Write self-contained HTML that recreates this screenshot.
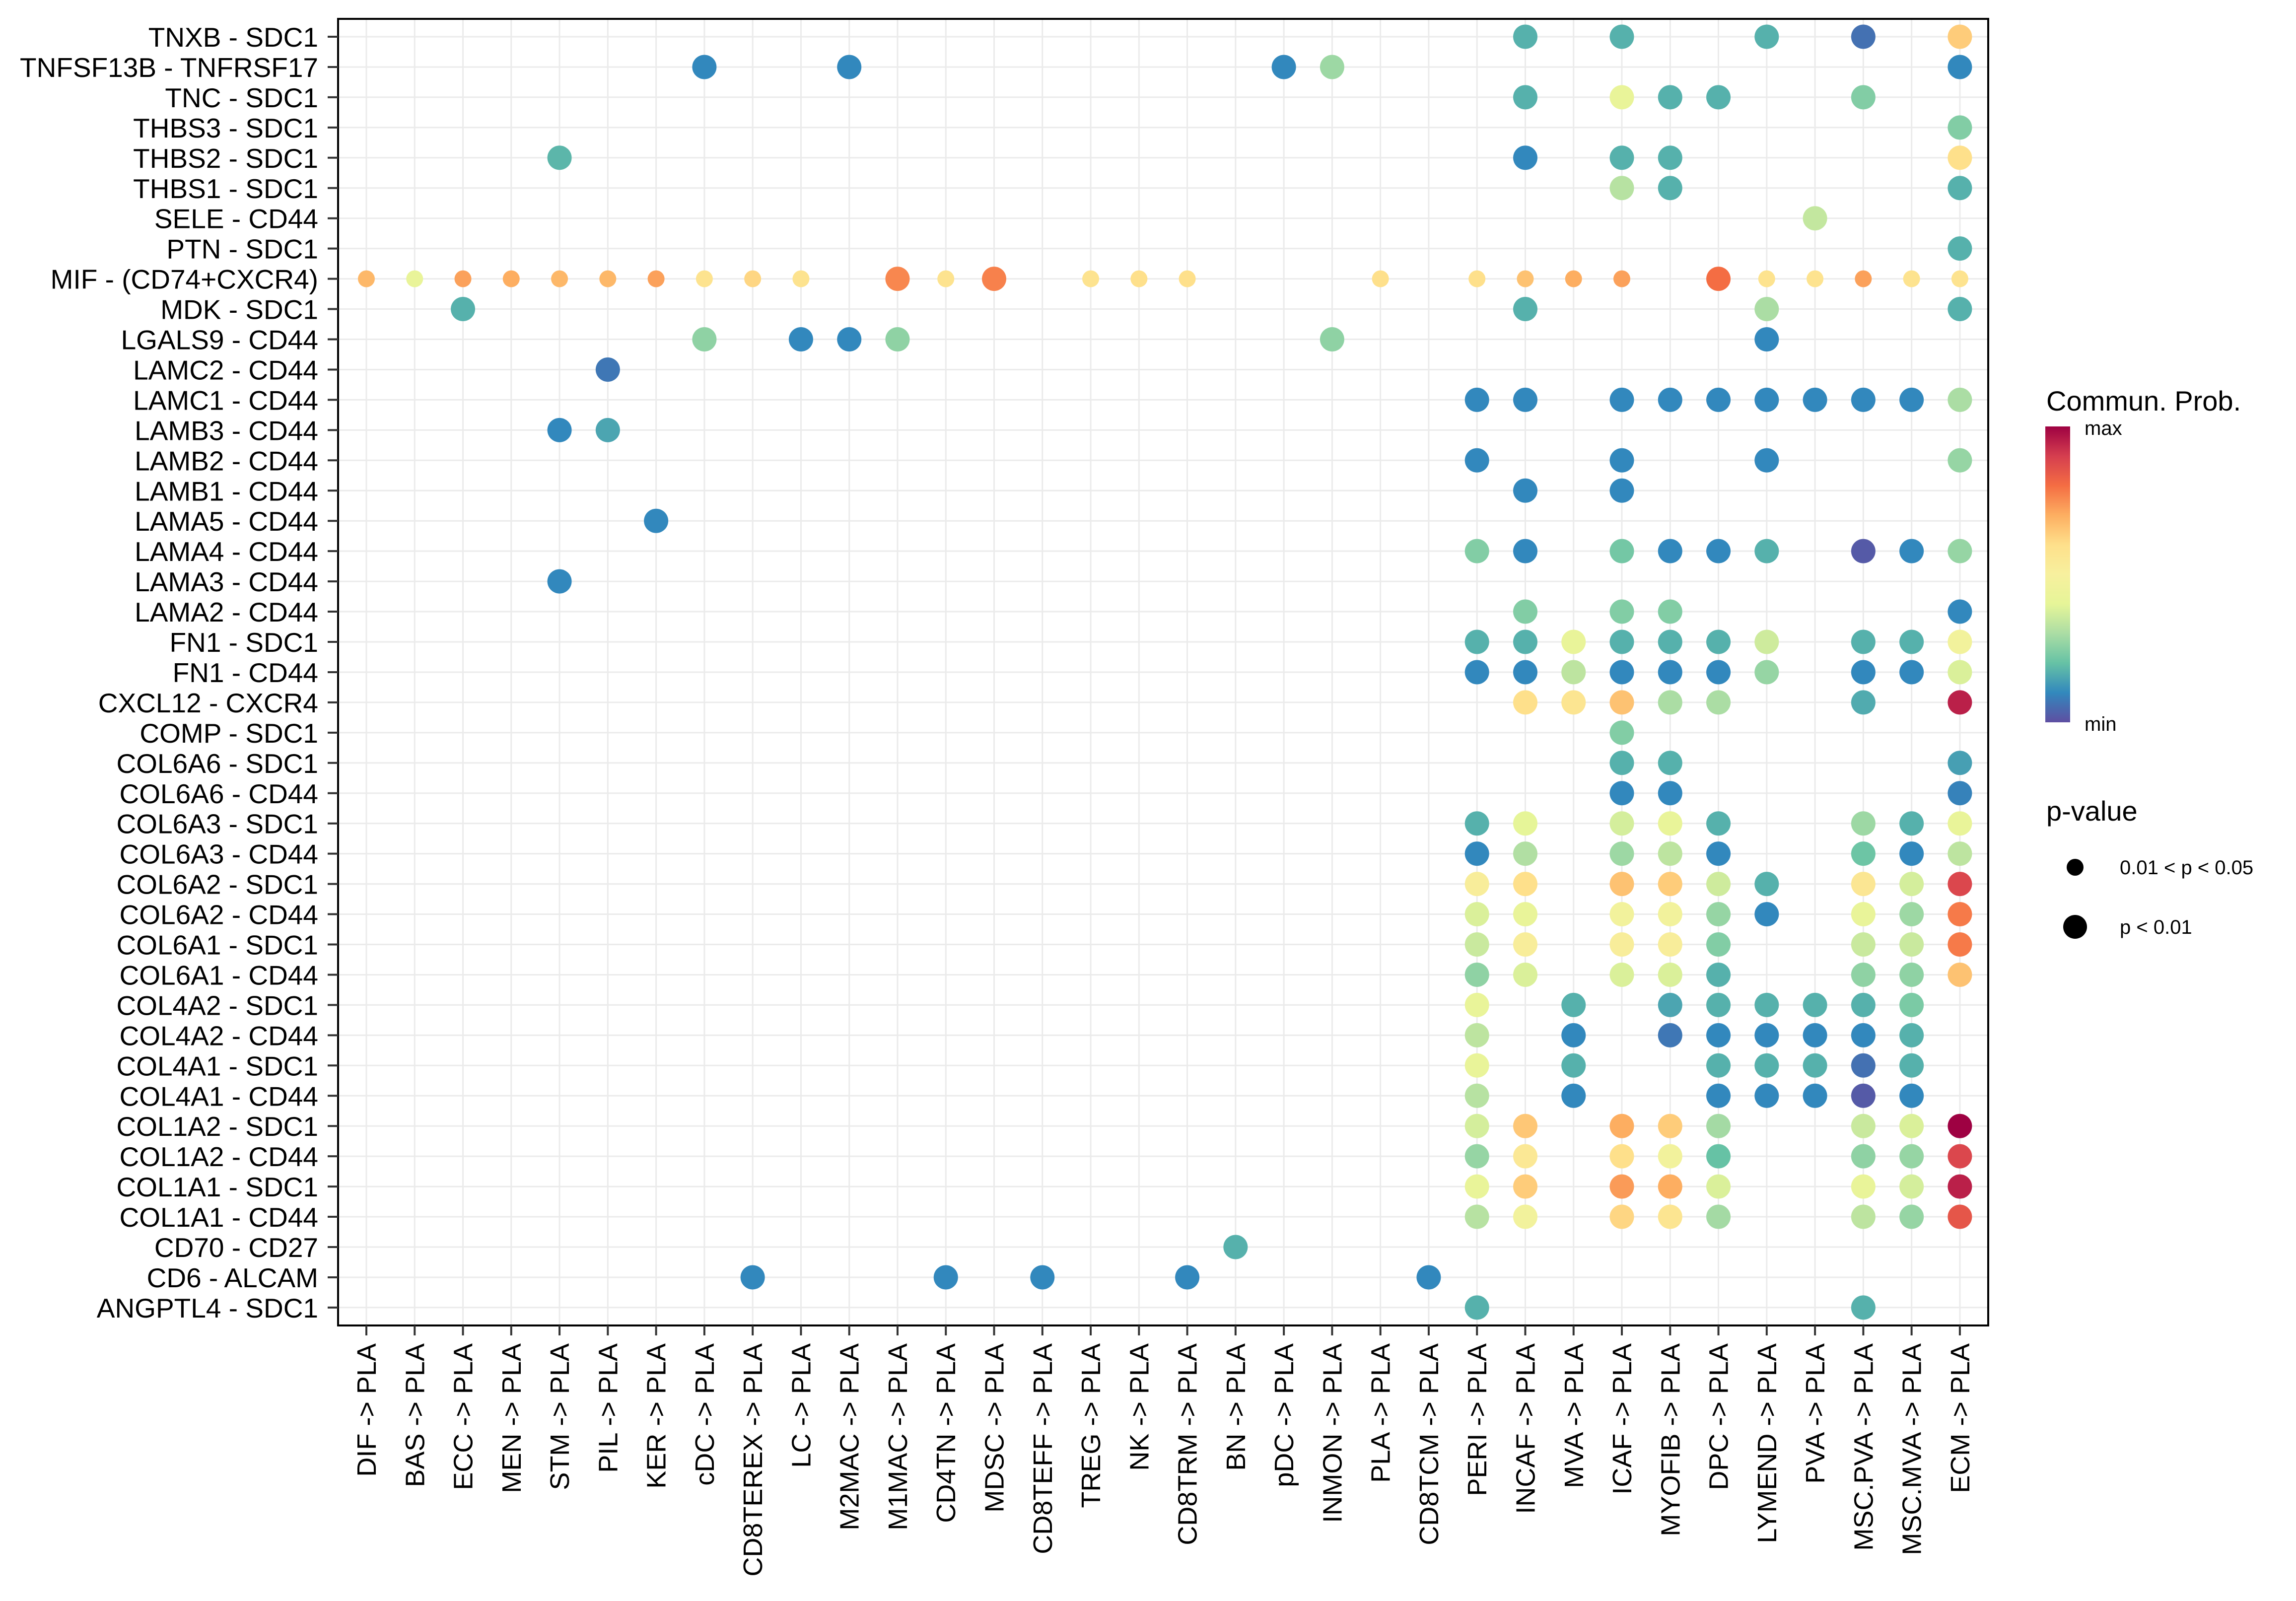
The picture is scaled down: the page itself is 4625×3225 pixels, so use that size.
<!DOCTYPE html>
<html><head><meta charset="utf-8">
<style>
html,body{margin:0;padding:0;background:#fff;}
svg{display:block;font-family:"Liberation Sans",Arial,sans-serif;}
</style></head>
<body>
<svg id="chart" width="4625" height="3225" viewBox="0 0 4625 3225" xmlns="http://www.w3.org/2000/svg">
<rect width="4625" height="3225" fill="#fff"/>
<g id="grid"></g>
<g id="dots"></g>
<rect x="681" y="38" width="3324" height="2632" fill="none" stroke="#000" stroke-width="4"/>
<g id="yaxis"></g>
<g id="xaxis"></g>
<g>
  <defs>
    <linearGradient id="cbar" x1="0" y1="1" x2="0" y2="0">
      <stop offset="0" stop-color="#5E4FA2"/><stop offset="0.1" stop-color="#3288BD"/><stop offset="0.2" stop-color="#66C2A5"/><stop offset="0.3" stop-color="#ABDDA4"/><stop offset="0.4" stop-color="#E6F598"/><stop offset="0.5" stop-color="#F7F09E"/><stop offset="0.6" stop-color="#FEE08B"/><stop offset="0.7" stop-color="#FDAE61"/><stop offset="0.8" stop-color="#F46D43"/><stop offset="0.9" stop-color="#D53E4F"/><stop offset="1" stop-color="#9E0142"/>
    </linearGradient>
  </defs>
  <text x="4122" y="827" font-size="56">Commun. Prob.</text>
  <rect x="4120" y="859" width="50" height="596" fill="url(#cbar)"/>
  <text x="4199" y="876" font-size="40">max</text>
  <text x="4199" y="1472" font-size="40">min</text>
</g>
<g>
  <text x="4122" y="1653" font-size="56">p-value</text>
  <circle cx="4180" cy="1747" r="17" fill="#000"/>
  <text x="4270" y="1761" font-size="40">0.01 &lt; p &lt; 0.05</text>
  <circle cx="4180" cy="1867" r="24" fill="#000"/>
  <text x="4270" y="1881" font-size="40">p &lt; 0.01</text>
</g>
</svg>
<script>
const rowLabels = ["TNXB - SDC1","TNFSF13B - TNFRSF17","TNC - SDC1","THBS3 - SDC1","THBS2 - SDC1","THBS1 - SDC1","SELE - CD44","PTN - SDC1","MIF - (CD74+CXCR4)","MDK - SDC1","LGALS9 - CD44","LAMC2 - CD44","LAMC1 - CD44","LAMB3 - CD44","LAMB2 - CD44","LAMB1 - CD44","LAMA5 - CD44","LAMA4 - CD44","LAMA3 - CD44","LAMA2 - CD44","FN1 - SDC1","FN1 - CD44","CXCL12 - CXCR4","COMP - SDC1","COL6A6 - SDC1","COL6A6 - CD44","COL6A3 - SDC1","COL6A3 - CD44","COL6A2 - SDC1","COL6A2 - CD44","COL6A1 - SDC1","COL6A1 - CD44","COL4A2 - SDC1","COL4A2 - CD44","COL4A1 - SDC1","COL4A1 - CD44","COL1A2 - SDC1","COL1A2 - CD44","COL1A1 - SDC1","COL1A1 - CD44","CD70 - CD27","CD6 - ALCAM","ANGPTL4 - SDC1"];
const colLabels = ["DIF","BAS","ECC","MEN","STM","PIL","KER","cDC","CD8TEREX","LC","M2MAC","M1MAC","CD4TN","MDSC","CD8TEFF","TREG","NK","CD8TRM","BN","pDC","INMON","PLA","CD8TCM","PERI","INCAF","MVA","ICAF","MYOFIB","DPC","LYMEND","PVA","MSC.PVA","MSC.MVA","ECM"];
const pointRows = [
"TNXB - SDC1","TNXB - SDC1","TNXB - SDC1","TNXB - SDC1","TNXB - SDC1",
"TNFSF13B - TNFRSF17","TNFSF13B - TNFRSF17","TNFSF13B - TNFRSF17","TNFSF13B - TNFRSF17","TNFSF13B - TNFRSF17",
"TNC - SDC1","TNC - SDC1","TNC - SDC1","TNC - SDC1","TNC - SDC1",
"THBS3 - SDC1",
"THBS2 - SDC1","THBS2 - SDC1","THBS2 - SDC1","THBS2 - SDC1","THBS2 - SDC1",
"THBS1 - SDC1","THBS1 - SDC1","THBS1 - SDC1",
"SELE - CD44","PTN - SDC1",
"MIF - (CD74+CXCR4)","MIF - (CD74+CXCR4)","MIF - (CD74+CXCR4)","MIF - (CD74+CXCR4)","MIF - (CD74+CXCR4)","MIF - (CD74+CXCR4)","MIF - (CD74+CXCR4)","MIF - (CD74+CXCR4)","MIF - (CD74+CXCR4)","MIF - (CD74+CXCR4)","MIF - (CD74+CXCR4)","MIF - (CD74+CXCR4)","MIF - (CD74+CXCR4)","MIF - (CD74+CXCR4)","MIF - (CD74+CXCR4)","MIF - (CD74+CXCR4)","MIF - (CD74+CXCR4)","MIF - (CD74+CXCR4)","MIF - (CD74+CXCR4)","MIF - (CD74+CXCR4)","MIF - (CD74+CXCR4)","MIF - (CD74+CXCR4)","MIF - (CD74+CXCR4)","MIF - (CD74+CXCR4)","MIF - (CD74+CXCR4)","MIF - (CD74+CXCR4)","MIF - (CD74+CXCR4)",
"MDK - SDC1","MDK - SDC1","MDK - SDC1","MDK - SDC1",
"LGALS9 - CD44","LGALS9 - CD44","LGALS9 - CD44","LGALS9 - CD44","LGALS9 - CD44","LGALS9 - CD44",
"LAMC2 - CD44",
"LAMC1 - CD44","LAMC1 - CD44","LAMC1 - CD44","LAMC1 - CD44","LAMC1 - CD44","LAMC1 - CD44","LAMC1 - CD44","LAMC1 - CD44","LAMC1 - CD44","LAMC1 - CD44",
"LAMB3 - CD44","LAMB3 - CD44",
"LAMB2 - CD44","LAMB2 - CD44","LAMB2 - CD44","LAMB2 - CD44",
"LAMB1 - CD44","LAMB1 - CD44",
"LAMA5 - CD44",
"LAMA4 - CD44","LAMA4 - CD44","LAMA4 - CD44","LAMA4 - CD44","LAMA4 - CD44","LAMA4 - CD44","LAMA4 - CD44","LAMA4 - CD44","LAMA4 - CD44",
"LAMA3 - CD44",
"LAMA2 - CD44","LAMA2 - CD44","LAMA2 - CD44","LAMA2 - CD44",
"FN1 - SDC1","FN1 - SDC1","FN1 - SDC1","FN1 - SDC1","FN1 - SDC1","FN1 - SDC1","FN1 - SDC1","FN1 - SDC1","FN1 - SDC1","FN1 - SDC1",
"FN1 - CD44","FN1 - CD44","FN1 - CD44","FN1 - CD44","FN1 - CD44","FN1 - CD44","FN1 - CD44","FN1 - CD44","FN1 - CD44","FN1 - CD44",
"CXCL12 - CXCR4","CXCL12 - CXCR4","CXCL12 - CXCR4","CXCL12 - CXCR4","CXCL12 - CXCR4","CXCL12 - CXCR4","CXCL12 - CXCR4",
"COMP - SDC1",
"COL6A6 - SDC1","COL6A6 - SDC1","COL6A6 - SDC1",
"COL6A6 - CD44","COL6A6 - CD44","COL6A6 - CD44",
"COL6A3 - SDC1","COL6A3 - SDC1","COL6A3 - SDC1","COL6A3 - SDC1","COL6A3 - SDC1","COL6A3 - SDC1","COL6A3 - SDC1","COL6A3 - SDC1",
"COL6A3 - CD44","COL6A3 - CD44","COL6A3 - CD44","COL6A3 - CD44","COL6A3 - CD44","COL6A3 - CD44","COL6A3 - CD44","COL6A3 - CD44",
"COL6A2 - SDC1","COL6A2 - SDC1","COL6A2 - SDC1","COL6A2 - SDC1","COL6A2 - SDC1","COL6A2 - SDC1","COL6A2 - SDC1","COL6A2 - SDC1","COL6A2 - SDC1",
"COL6A2 - CD44","COL6A2 - CD44","COL6A2 - CD44","COL6A2 - CD44","COL6A2 - CD44","COL6A2 - CD44","COL6A2 - CD44","COL6A2 - CD44","COL6A2 - CD44",
"COL6A1 - SDC1","COL6A1 - SDC1","COL6A1 - SDC1","COL6A1 - SDC1","COL6A1 - SDC1","COL6A1 - SDC1","COL6A1 - SDC1","COL6A1 - SDC1",
"COL6A1 - CD44","COL6A1 - CD44","COL6A1 - CD44","COL6A1 - CD44","COL6A1 - CD44","COL6A1 - CD44","COL6A1 - CD44","COL6A1 - CD44",
"COL4A2 - SDC1","COL4A2 - SDC1","COL4A2 - SDC1","COL4A2 - SDC1","COL4A2 - SDC1","COL4A2 - SDC1","COL4A2 - SDC1","COL4A2 - SDC1",
"COL4A2 - CD44","COL4A2 - CD44","COL4A2 - CD44","COL4A2 - CD44","COL4A2 - CD44","COL4A2 - CD44","COL4A2 - CD44","COL4A2 - CD44",
"COL4A1 - SDC1","COL4A1 - SDC1","COL4A1 - SDC1","COL4A1 - SDC1","COL4A1 - SDC1","COL4A1 - SDC1","COL4A1 - SDC1",
"COL4A1 - CD44","COL4A1 - CD44","COL4A1 - CD44","COL4A1 - CD44","COL4A1 - CD44","COL4A1 - CD44","COL4A1 - CD44",
"COL1A2 - SDC1","COL1A2 - SDC1","COL1A2 - SDC1","COL1A2 - SDC1","COL1A2 - SDC1","COL1A2 - SDC1","COL1A2 - SDC1","COL1A2 - SDC1",
"COL1A2 - CD44","COL1A2 - CD44","COL1A2 - CD44","COL1A2 - CD44","COL1A2 - CD44","COL1A2 - CD44","COL1A2 - CD44","COL1A2 - CD44",
"COL1A1 - SDC1","COL1A1 - SDC1","COL1A1 - SDC1","COL1A1 - SDC1","COL1A1 - SDC1","COL1A1 - SDC1","COL1A1 - SDC1","COL1A1 - SDC1",
"COL1A1 - CD44","COL1A1 - CD44","COL1A1 - CD44","COL1A1 - CD44","COL1A1 - CD44","COL1A1 - CD44","COL1A1 - CD44","COL1A1 - CD44",
"CD70 - CD27",
"CD6 - ALCAM","CD6 - ALCAM","CD6 - ALCAM","CD6 - ALCAM","CD6 - ALCAM",
"ANGPTL4 - SDC1","ANGPTL4 - SDC1"
];
const pointCols = [
"INCAF","ICAF","LYMEND","MSC.PVA","ECM",
"cDC","M2MAC","pDC","INMON","ECM",
"INCAF","ICAF","MYOFIB","DPC","MSC.PVA",
"ECM",
"STM","INCAF","ICAF","MYOFIB","ECM",
"ICAF","MYOFIB","ECM",
"PVA","ECM",
"DIF","BAS","ECC","MEN","STM","PIL","KER","cDC","CD8TEREX","LC","M1MAC","CD4TN","MDSC","TREG","NK","CD8TRM","PLA","PERI","INCAF","MVA","ICAF","DPC","LYMEND","PVA","MSC.PVA","MSC.MVA","ECM",
"ECC","INCAF","LYMEND","ECM",
"cDC","LC","M2MAC","M1MAC","INMON","LYMEND",
"PIL",
"PERI","INCAF","ICAF","MYOFIB","DPC","LYMEND","PVA","MSC.PVA","MSC.MVA","ECM",
"STM","PIL",
"PERI","ICAF","LYMEND","ECM",
"INCAF","ICAF",
"KER",
"PERI","INCAF","ICAF","MYOFIB","DPC","LYMEND","MSC.PVA","MSC.MVA","ECM",
"STM",
"INCAF","ICAF","MYOFIB","ECM",
"PERI","INCAF","MVA","ICAF","MYOFIB","DPC","LYMEND","MSC.PVA","MSC.MVA","ECM",
"PERI","INCAF","MVA","ICAF","MYOFIB","DPC","LYMEND","MSC.PVA","MSC.MVA","ECM",
"INCAF","MVA","ICAF","MYOFIB","DPC","MSC.PVA","ECM",
"ICAF",
"ICAF","MYOFIB","ECM",
"ICAF","MYOFIB","ECM",
"PERI","INCAF","ICAF","MYOFIB","DPC","MSC.PVA","MSC.MVA","ECM",
"PERI","INCAF","ICAF","MYOFIB","DPC","MSC.PVA","MSC.MVA","ECM",
"PERI","INCAF","ICAF","MYOFIB","DPC","LYMEND","MSC.PVA","MSC.MVA","ECM",
"PERI","INCAF","ICAF","MYOFIB","DPC","LYMEND","MSC.PVA","MSC.MVA","ECM",
"PERI","INCAF","ICAF","MYOFIB","DPC","MSC.PVA","MSC.MVA","ECM",
"PERI","INCAF","ICAF","MYOFIB","DPC","MSC.PVA","MSC.MVA","ECM",
"PERI","MVA","MYOFIB","DPC","LYMEND","PVA","MSC.PVA","MSC.MVA",
"PERI","MVA","MYOFIB","DPC","LYMEND","PVA","MSC.PVA","MSC.MVA",
"PERI","MVA","DPC","LYMEND","PVA","MSC.PVA","MSC.MVA",
"PERI","MVA","DPC","LYMEND","PVA","MSC.PVA","MSC.MVA",
"PERI","INCAF","ICAF","MYOFIB","DPC","MSC.PVA","MSC.MVA","ECM",
"PERI","INCAF","ICAF","MYOFIB","DPC","MSC.PVA","MSC.MVA","ECM",
"PERI","INCAF","ICAF","MYOFIB","DPC","MSC.PVA","MSC.MVA","ECM",
"PERI","INCAF","ICAF","MYOFIB","DPC","MSC.PVA","MSC.MVA","ECM",
"BN",
"CD8TEREX","CD4TN","CD8TEFF","CD8TRM","CD8TCM",
"PERI","MSC.PVA"
];
const probValues = [
.17,.17,.17,.06,.64,
.1,.1,.1,.28,.1,
.17,.42,.17,.17,.24,
.24,
.18,.1,.17,.17,.6,
.32,.17,.17,
.34,.17,
.68,.42,.72,.7,.68,.68,.72,.58,.62,.58,.76,.58,.77,.58,.6,.6,.6,.6,.66,.7,.72,.8,.58,.58,.72,.58,.58,
.17,.17,.3,.17,
.26,.1,.1,.26,.26,.1,
.07,
.1,.1,.1,.1,.1,.1,.1,.1,.1,.3,
.1,.15,
.1,.1,.1,.27,
.1,.1,
.1,
.24,.1,.22,.1,.1,.17,.02,.1,.27,
.1,
.24,.24,.24,.1,
.17,.17,.42,.17,.17,.17,.36,.17,.17,.47,
.1,.1,.33,.1,.1,.1,.27,.1,.1,.38,
.6,.57,.66,.3,.3,.16,.95,
.24,
.17,.17,.14,
.1,.1,.09,
.17,.4,.37,.42,.17,.28,.17,.42,
.1,.31,.28,.33,.1,.21,.1,.33,
.52,.6,.66,.64,.36,.17,.56,.37,.88,
.38,.42,.47,.47,.27,.1,.42,.28,.78,
.35,.52,.52,.52,.24,.35,.35,.78,
.26,.38,.38,.38,.17,.26,.26,.66,
.42,.17,.15,.17,.17,.17,.17,.23,
.33,.1,.07,.1,.1,.1,.1,.17,
.42,.17,.17,.17,.17,.06,.17,
.32,.1,.1,.1,.1,.02,.1,
.37,.65,.7,.64,.29,.35,.38,1.0,
.27,.55,.6,.47,.2,.26,.27,.88,
.42,.64,.73,.7,.38,.42,.37,.95,
.32,.47,.62,.57,.29,.33,.27,.85,
.17,
.1,.1,.1,.1,.1,
.17,.17
];
const smallPointCols = ["DIF","BAS","ECC","MEN","STM","PIL","KER","cDC","CD8TEREX","LC","CD4TN","TREG","NK","CD8TRM","PLA","PERI","INCAF","MVA","ICAF","LYMEND","PVA","MSC.PVA","MSC.MVA","ECM"];
const smallPointRow = "MIF - (CD74+CXCR4)";

const palette = ["#5E4FA2","#3288BD","#66C2A5","#ABDDA4","#E6F598","#F7F09E","#FEE08B","#FDAE61","#F46D43","#D53E4F","#9E0142"];
function hex(c){return [parseInt(c.slice(1,3),16),parseInt(c.slice(3,5),16),parseInt(c.slice(5,7),16)];}
function colorScale(v){
  v=Math.max(0,Math.min(1,v));
  const t=v*(palette.length-1), i=Math.min(Math.floor(t),palette.length-2), f=t-i;
  const a=hex(palette[i]), b=hex(palette[i+1]);
  return "rgb("+a.map((x,k)=>Math.round(x+(b[k]-x)*f)).join(",")+")";
}
const X0=738, DX=97.27, Y0=74, DY=60.95;
function xScale(c){return X0+colLabels.indexOf(c)*DX;}
function yScale(r){return Y0+rowLabels.indexOf(r)*DY;}
const NS="http://www.w3.org/2000/svg";
function mk(tag,attrs,parent){const e=document.createElementNS(NS,tag);for(const k in attrs)e.setAttribute(k,attrs[k]);parent.appendChild(e);return e;}

const grid=document.getElementById('grid');
rowLabels.forEach(r=>{
  const l=mk('line',{x1:681,x2:4005,y1:yScale(r),y2:yScale(r),stroke:'#EBEBEB','stroke-width':3},grid);
  
  
});
colLabels.forEach(c=>{
  const l=mk('line',{x1:xScale(c),x2:xScale(c),y1:38,y2:2670,stroke:'#EBEBEB','stroke-width':3},grid);
  
  
});

const ya=document.getElementById('yaxis');
rowLabels.forEach(r=>{
  const y=yScale(r);
  const t=mk('line',{x1:660,x2:681,y1:y,y2:y,stroke:'#333','stroke-width':4},ya);
  
  
  const tx=mk('text',{x:641,y:y+20,'text-anchor':'end','font-size':55,fill:'#000'},ya);
  tx.textContent=r;
  
  
});
const xa=document.getElementById('xaxis');
colLabels.forEach(c=>{
  const x=xScale(c);
  const t=mk('line',{x1:x,x2:x,y1:2670,y2:2690,stroke:'#333','stroke-width':4},xa);
  
  
  const tx=mk('text',{transform:'translate('+(x+19)+',2706) rotate(-90)','text-anchor':'end','font-size':54,fill:'#000'},xa);
  tx.textContent=c+" -> PLA";
  
  
});

const dots=document.getElementById('dots');
pointRows.forEach((r,i)=>{
  const c=pointCols[i];
  const small = (r===smallPointRow && smallPointCols.indexOf(c)>=0);
  const d=mk('circle',{cx:xScale(c),cy:yScale(r),r:small?17:24.5,fill:colorScale(probValues[i])},dots);
  
  
});
</script>
</body></html>
